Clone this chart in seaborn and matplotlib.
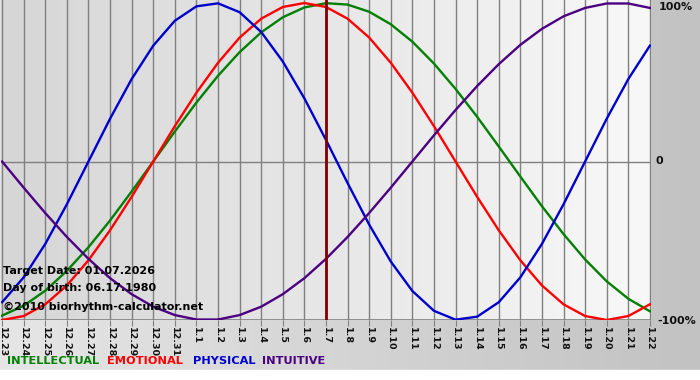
import numpy as np
import pandas as pd
import matplotlib
matplotlib.use("Agg")
import matplotlib.pyplot as plt
from matplotlib.colors import LinearSegmentedColormap
import seaborn as sns

# ---- data ----
dates = ["12.23", "12.24", "12.25", "12.26", "12.27", "12.28", "12.29", "12.30", "12.31",
         "1.1", "1.2", "1.3", "1.4", "1.5", "1.6", "1.7", "1.8", "1.9", "1.10", "1.11",
         "1.12", "1.13", "1.14", "1.15", "1.16", "1.17", "1.18", "1.19", "1.20", "1.21", "1.22"]

physical = [-0.888, -0.731, -0.520, -0.270, 0.000, 0.270, 0.520, 0.731, 0.888, 0.979,
            0.998, 0.942, 0.817, 0.631, 0.398, 0.136, -0.136, -0.398, -0.631, -0.817,
            -0.942, -0.998, -0.979, -0.888, -0.731, -0.520, -0.270, 0.000, 0.270, 0.520, 0.731]

emotional = [-1.000, -0.975, -0.901, -0.782, -0.623, -0.434, -0.223, 0.000, 0.223, 0.434,
             0.623, 0.782, 0.901, 0.975, 1.000, 0.975, 0.901, 0.782, 0.623, 0.434,
             0.223, 0.000, -0.223, -0.434, -0.623, -0.782, -0.901, -0.975, -1.000, -0.975, -0.901]

intellectual = [-0.972, -0.910, -0.815, -0.690, -0.541, -0.372, -0.189, 0.000, 0.189, 0.372,
                0.541, 0.690, 0.815, 0.910, 0.972, 0.999, 0.990, 0.945, 0.866, 0.756,
                0.618, 0.458, 0.282, 0.095, -0.095, -0.282, -0.458, -0.618, -0.756, -0.866, -0.945]

intuitive = [0.000, -0.165, -0.325, -0.476, -0.614, -0.736, -0.837, -0.916, -0.969, -0.997,
             -0.997, -0.969, -0.916, -0.837, -0.736, -0.614, -0.476, -0.325, -0.165, 0.000,
             0.165, 0.325, 0.476, 0.614, 0.736, 0.837, 0.916, 0.969, 0.997, 0.997, 0.969]

target_label = "1.7"
series_names = ["INTELLECTUAL", "EMOTIONAL", "PHYSICAL", "INTUITIVE"]
series_colors = ["#008000", "#ff0000", "#0000cc", "#4b0082"]
info_lines = ["Target Date: 01.07.2026", "Day of birth: 06.17.1980", "\u00a92010 biorhythm-calculator.net"]
right_labels = ["100%", "0", "-100%"]

# ---- build long-form table ----
idx = np.arange(len(dates))
df = pd.concat([
    pd.DataFrame({"day": idx, "value": vals, "series": name})
    for name, vals in zip(series_names, [intellectual, emotional, physical, intuitive])
])

W, H = 700, 380
fig = plt.figure(figsize=(W / 100, H / 100), dpi=100)

def fx(px):
    return px / W

def fy(py):
    return 1 - py / H

# figure background gradient
bg = fig.add_axes([0, 0, 1, 1], zorder=-10)
bg.imshow(np.linspace(0, 1, 256).reshape(1, -1),
          cmap=LinearSegmentedColormap.from_list("bg", ["#e6e6e6", "#c2c2c2"]),
          aspect="auto", extent=[0, 1, 0, 1])
bg.axhspan(0, 10 / H, color="white")
bg.set_xlim(0, 1)
bg.set_ylim(0, 1)
bg.axis("off")

# plot area
px_per_day = 21.63
x0 = 1
xmax = 30.05
ax = fig.add_axes([fx(x0), fy(320), fx(xmax * px_per_day), 320 / H])
ymin, ymax = -1.0, 1.019
ax.imshow(np.linspace(0, 1, 256).reshape(1, -1),
          cmap=LinearSegmentedColormap.from_list("pa", ["#d6d6d6", "#f8f8f8"]),
          aspect="auto", extent=[-0.1, xmax, ymin, ymax], zorder=0)

for d in idx:
    ax.axvline(d, color="#808080", lw=1, zorder=1)
ax.axhline(0, color="#808080", lw=1, zorder=1)
ax.axhline(-1, color="#808080", lw=1.2, zorder=1)

sns.lineplot(data=df, x="day", y="value", hue="series", hue_order=series_names,
             palette=dict(zip(series_names, series_colors)), linewidth=1.7,
             legend=False, ax=ax, zorder=3, sort=False)

ax.axvline(dates.index(target_label), color="#800000", lw=2, zorder=4)

ax.set_xlim(-0.05, xmax)
ax.set_ylim(ymin, ymax)
ax.set_xticks(idx)
ax.set_xticklabels(dates, rotation=270, fontsize=6.8, fontweight="bold",
                   va="top", ha="center", color="#111111")
ax.tick_params(axis="x", length=4, color="#808080", pad=1)
ax.set_yticks([])
ax.set_xlabel("")
ax.set_ylabel("")
for s in ax.spines.values():
    s.set_visible(False)

# info texts
for t, py in zip(info_lines, [271, 288, 307]):
    fig.text(fx(3), fy(py), t, fontsize=8, fontweight="bold", color="black",
             va="center", ha="left", zorder=10)

# right side labels
for t, px, py in zip(right_labels, [659, 656, 657], [7, 161, 321]):
    fig.text(fx(px), fy(py), t, fontsize=8, fontweight="bold", color="#111111",
             va="center", ha="left")

# legend texts
for t, c, px in zip(series_names, series_colors, [7, 107, 193, 262]):
    fig.text(fx(px), fy(361), t, fontsize=8.2, fontweight="bold", color=c,
             va="center", ha="left")

fig.savefig("out.png", dpi=100)
